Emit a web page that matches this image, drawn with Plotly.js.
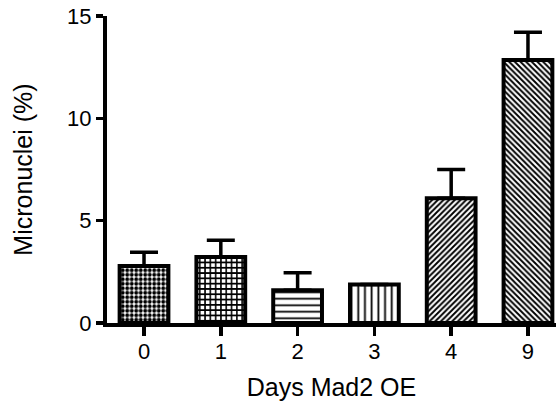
<!DOCTYPE html>
<html>
<head>
<meta charset="utf-8">
<script src="https://cdn.plot.ly/plotly-3.0.1.min.js"></script>
<style>html,body{margin:0;padding:0;background:#fff;}#chart{width:556px;height:404px;}</style>
</head>
<body>
<div id="chart"></div>
<script>
const categories = ["0", "1", "2", "3", "4", "9"];
const micronuclei = [2.78, 3.22, 1.6, 1.88, 6.1, 12.85];
const errorUpper = [0.68, 0.82, 0.85, 0.0, 1.4, 1.35];
const patternShapes = [".", "+", "-", "|", "/", "\\"];
const patternSizes = [4.5, 5.3, 6.5, 6.7, 4, 4];
const patternSolidity = [0.6, 0.5, 0.27, 0.27, 0.48, 0.48];
const yTicks = [0, 5, 10, 15];

const trace = {
  type: "bar",
  x: categories,
  y: micronuclei,
  width: 0.635,
  marker: {
    color: "white",
    line: {color: "black", width: 4},
    pattern: {
      shape: patternShapes,
      size: patternSizes,
      solidity: patternSolidity,
      fgcolor: "black",
      bgcolor: "white",
      fillmode: "replace"
    }
  },
  error_y: {
    type: "data",
    symmetric: false,
    array: errorUpper,
    arrayminus: errorUpper.map(() => 0),
    color: "black",
    thickness: 3.5,
    width: 14
  },
  hoverinfo: "x+y"
};

const layout = {
  width: 556,
  height: 404,
  margin: {l: 107, r: 0, t: 16, b: 81},
  paper_bgcolor: "white",
  plot_bgcolor: "white",
  showlegend: false,
  font: {family: "Liberation Sans, Arial, sans-serif", color: "black"},
  xaxis: {
    type: "category",
    range: [-0.482, 5.365],
    showgrid: false,
    zeroline: false,
    showline: true,
    linecolor: "black",
    linewidth: 4,
    ticks: "outside",
    ticklen: 9,
    tickwidth: 3.5,
    tickcolor: "black",
    ticklabelstandoff: -3,
    tickfont: {size: 22, color: "black"},
    title: {text: "Days Mad2 OE", font: {size: 25, color: "black"}, standoff: 16},
    automargin: false,
    fixedrange: true
  },
  yaxis: {
    range: [0, 15],
    tickvals: yTicks,
    ticktext: yTicks.map(String),
    showgrid: false,
    zeroline: false,
    showline: true,
    linecolor: "black",
    linewidth: 4,
    ticks: "outside",
    ticklen: 7,
    tickwidth: 3.5,
    tickcolor: "black",
    tickfont: {size: 22, color: "black"},
    title: {text: "Micronuclei (%)", font: {size: 25, color: "black"}, standoff: 28},
    automargin: false,
    fixedrange: true
  }
};

Plotly.newPlot("chart", [trace], layout, {displayModeBar: false, staticPlot: true});
</script>
</body>
</html>
